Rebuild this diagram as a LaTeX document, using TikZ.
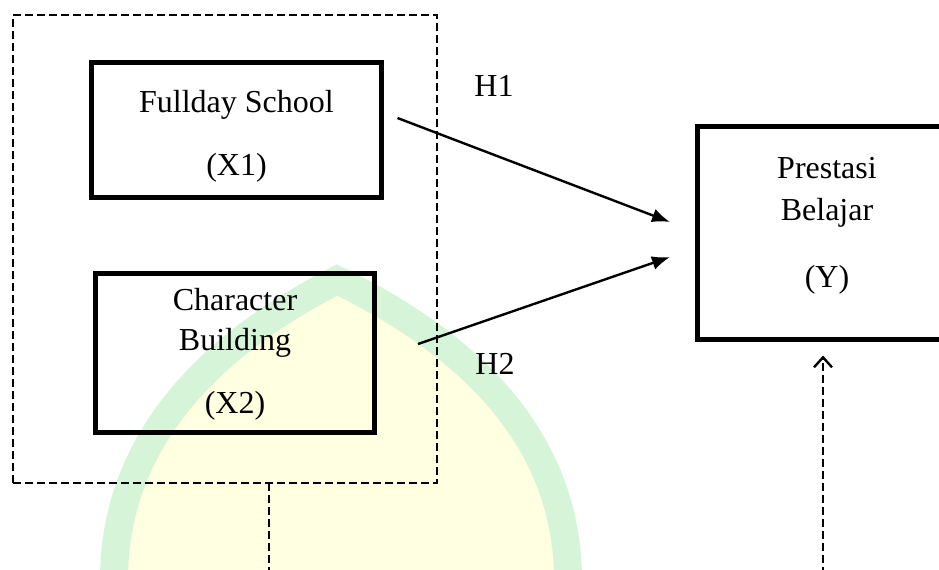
\documentclass[tikz,border=0pt]{standalone}
\usepackage{fontspec}
\setmainfont{Liberation Serif}
\usetikzlibrary{arrows.meta}
\definecolor{wmgreen}{RGB}{214,245,216}
\definecolor{wmyellow}{RGB}{255,255,226}
\tikzset{
  varbox/.style={draw=black, line width=2.8pt, rectangle, inner sep=0pt, outer sep=0pt},
  grpbox/.style={draw=black, line width=1.2pt, dash pattern=on 4pt off 2pt, rectangle, inner sep=0pt, outer sep=0pt},
  txt/.style={align=center, inner sep=0pt, font=\fontsize{16}{20}\selectfont},
  hyp/.style={inner sep=0pt, font=\fontsize{16}{20}\selectfont},
  arr/.style={line width=1.2pt, -{Latex[length=9pt,width=7pt]}},
  dashline/.style={line width=1.2pt, dash pattern=on 4pt off 2pt},
  dasharr/.style={line width=1.2pt, dash pattern=on 4pt off 2pt, -{Straight Barb[length=5pt,width=9pt,line width=1.2pt]}}
}
\begin{document}
\begin{tikzpicture}[x=0.5pt,y=-0.5pt]
\useasboundingbox (0,0) rectangle (939,569);
\begin{scope}
\clip (0,0) rectangle (939,569);
% watermark
\fill[wmyellow] (114,580) .. controls (114,420) and (240,330) .. (337,280) .. controls (440,330) and (568,420) .. (568,580) -- cycle;
\draw[wmgreen, line width=14pt] (114,580) .. controls (114,420) and (240,330) .. (337,280) .. controls (440,330) and (568,420) .. (568,580);
% boxes
\node[grpbox, minimum width=212pt, minimum height=234pt] (grp) at (225,249) {};
\node[varbox, minimum width=145pt, minimum height=67.5pt] (fs) at (236.5,130) {};
\node[txt] (fst) at ([yshift=-3pt]fs.center) {Fullday School\\[11.5pt](X1)};
\node[varbox, minimum width=139.5pt, minimum height=79.5pt] (cb) at (235,353) {};
\node[txt] (cbt) at ([yshift=-0.5pt]cb.center) {Character\\Building\\[11.5pt](X2)};
\node[varbox, minimum width=129.5pt, minimum height=106.5pt] (pb) at (827,233) {};
\node[txt] (pbt) at ([yshift=3.5pt]pb.center) {Prestasi\\[1pt]Belajar\\[13.5pt](Y)};
% arrows
\draw[arr] ([xshift=8pt,yshift=6pt]fs.east) -- ([xshift=-13.75pt,yshift=5.5pt]pb.west);
\draw[arr] ([xshift=21.75pt,yshift=4.5pt]cb.east) -- ([xshift=-13.75pt,yshift=-12pt]pb.west);
\node[hyp] (h1) at (494,86) {H1};
\node[hyp] (h2) at (495,364) {H2};
% dashed links
\coordinate (gend) at (269,575);
\coordinate (yend) at (823,575);
\draw[dashline] ([xshift=22pt]grp.south) -- (gend);
\draw[dasharr] (yend) -- ([yshift=-8pt]pb.south -| yend);
\end{scope}
\end{tikzpicture}
\end{document}
